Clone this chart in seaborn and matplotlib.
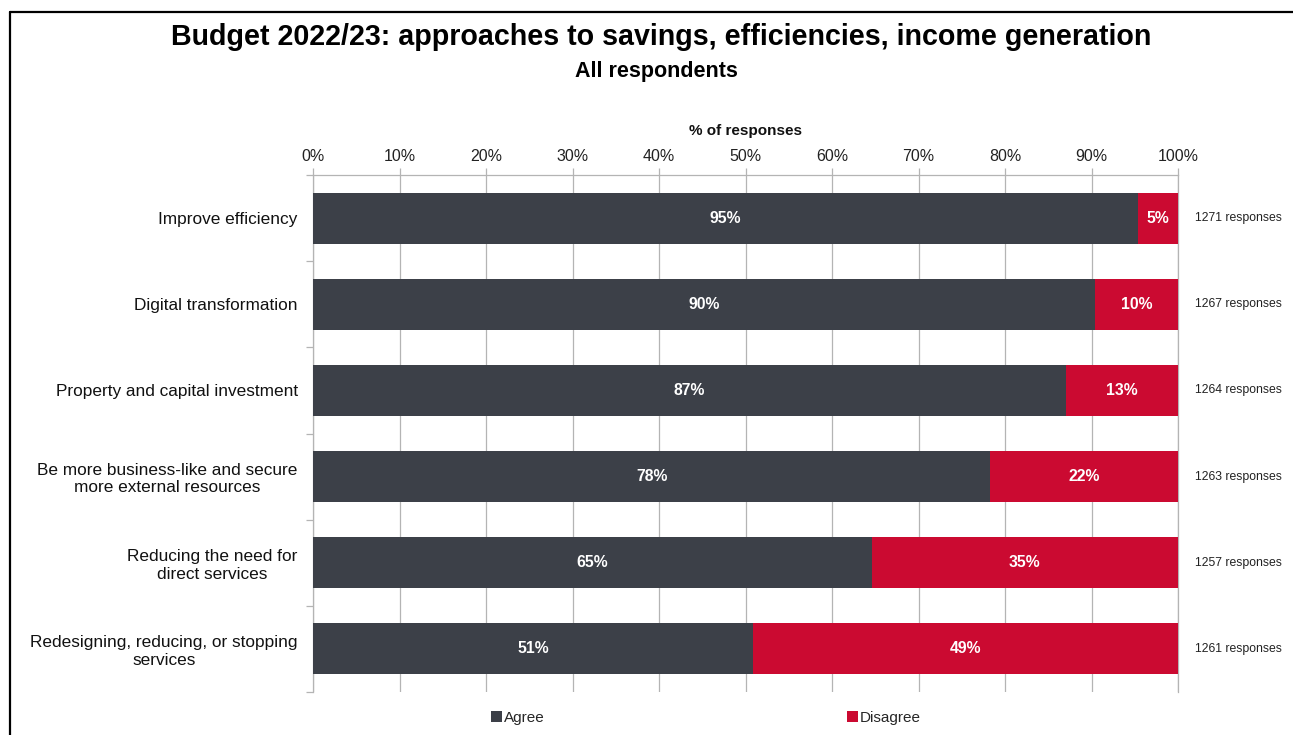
import matplotlib
matplotlib.use("Agg")
import matplotlib.pyplot as plt
import seaborn as sns
import pandas as pd
import numpy as np
from matplotlib.patches import Patch
from matplotlib.lines import Line2D
from matplotlib.ticker import FixedLocator, PercentFormatter

categories = [
    "Improve efficiency",
    "Digital transformation",
    "Property and capital investment",
    "Be more business-like and secure\nmore external resources",
    "Reducing the need for\ndirect services",
    "Redesigning, reducing, or stopping\nservices",
]
agree = [95.4, 90.4, 87.0, 78.3, 64.6, 50.9]
disagree = [4.6, 9.6, 13.0, 21.7, 35.4, 49.1]
responses = [1271, 1267, 1264, 1263, 1257, 1261]
x_ticks = [0, 10, 20, 30, 40, 50, 60, 70, 80, 90, 100]

AGREE_C = "#3c4048"
DIS_C = "#cb0a31"
GRID_C = "#b4b4b4"

sns.set_theme(style="white")
plt.rcParams["font.family"] = ["Liberation Sans", "DejaVu Sans"]

df = pd.DataFrame({
    "category": categories,
    "agree": agree,
    "disagree": disagree,
})
df["total"] = df["agree"] + df["disagree"]

fig = plt.figure(figsize=(12.93, 7.35), dpi=100)
ax = fig.add_axes([313 / 1293, 1 - 692 / 735, (1178 - 313) / 1293, (692 - 175) / 735])

sns.barplot(data=df, y="category", x="total", orient="h", color=DIS_C,
            saturation=1, width=0.59, ax=ax, zorder=3, linewidth=0)
sns.barplot(data=df, y="category", x="agree", orient="h", color=AGREE_C,
            saturation=1, width=0.59, ax=ax, zorder=4, linewidth=0)

ax.set_xlim(0, 100)
ax.set_ylim(5.5, -0.5)

# bar labels
for i, (a, d) in enumerate(zip(agree, disagree)):
    ax.text(a / 2, i, f"{round(a)}%", ha="center", va="center", color="white",
            fontsize=11.3, fontweight="bold", zorder=5)
    ax.text(a + d / 2, i, f"{round(d)}%", ha="center", va="center", color="white",
            fontsize=11.3, fontweight="bold", zorder=5)
    ax.text(102, i, f"{responses[i]} responses", ha="left", va="center",
            color="#222222", fontsize=8.8, clip_on=False)

# x axis on top
ax.xaxis.tick_top()
ax.xaxis.set_label_position("top")
ax.set_xticks(x_ticks)
ax.xaxis.set_major_formatter(PercentFormatter(decimals=0))
ax.tick_params(axis="x", which="major", length=5, width=0.9, color=GRID_C,
               labelsize=11.5, pad=3, labelcolor="#222222", top=True, bottom=False)
ax.set_xlabel("% of responses", fontsize=11, fontweight="bold", labelpad=10,
              color="#111111")
ax.grid(axis="x", color=GRID_C, linewidth=0.9, zorder=0)
ax.set_axisbelow(True)

# y axis
ax.set_ylabel("")
ax.tick_params(axis="y", which="major", length=0, pad=11, labelsize=12.4,
               labelcolor="#111111")
for lab in ax.get_yticklabels():
    lab.set_multialignment("center")
ax.yaxis.set_minor_locator(FixedLocator(np.arange(-0.5, 6.0, 1.0)))
ax.tick_params(axis="y", which="minor", length=5, width=0.9, color=GRID_C, left=True)

ax.spines["bottom"].set_visible(False)
for s in ["top", "left", "right"]:
    ax.spines[s].set_color(GRID_C)
    ax.spines[s].set_linewidth(0.9)
ax.spines["right"].set_zorder(2)

# titles
fig.text(661 / 1293, 1 - 37 / 735, "Budget 2022/23: approaches to savings, efficiencies, income generation",
         ha="center", va="center", fontsize=20.6, fontweight="bold", color="#000000")
fig.text(656 / 1293, 1 - 71 / 735, "All respondents", ha="center", va="center",
         fontsize=15.5, fontweight="bold", color="#000000")

# legend
handles = [Patch(facecolor=AGREE_C, edgecolor="none", label="Agree"),
           Patch(facecolor=DIS_C, edgecolor="none", label="Disagree")]
fig.legend(handles=handles, loc="center", bbox_to_anchor=(706 / 1293, 1 - 718 / 735),
           ncol=2, frameon=False, fontsize=11, handlelength=0.7, handleheight=0.7,
           handletextpad=0.15, columnspacing=19.8)

# outer border (cropped frame)
fig.add_artist(Line2D([10 / 1293, 10 / 1293], [0, 1 - 12 / 735], transform=fig.transFigure,
                      color="black", linewidth=1.6))
fig.add_artist(Line2D([10 / 1293, 1], [1 - 12 / 735, 1 - 12 / 735], transform=fig.transFigure,
                      color="black", linewidth=1.6))

fig.savefig("out.png", dpi=100, facecolor="white")
